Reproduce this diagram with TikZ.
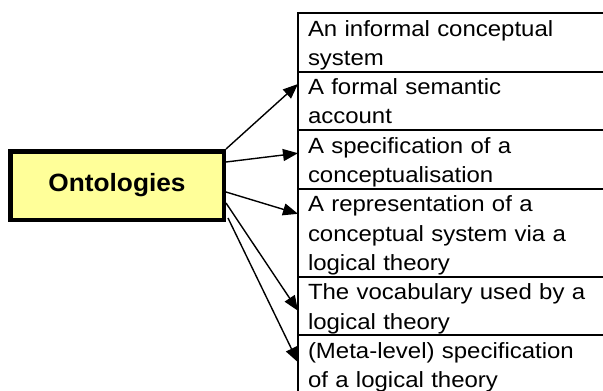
\documentclass[tikz,border=0pt]{standalone}
\usepackage{fontspec}
\setmainfont{Liberation Sans}
\newfontfamily\itemfont[FakeStretch=1.09]{Liberation Sans}
\newfontfamily\headfont[FakeStretch=1.05]{Liberation Sans}
\usetikzlibrary{arrows.meta,positioning}
\definecolor{ontofill}{HTML}{FFFF99}
\newcommand{\ls}{\rule[-6.3pt]{0pt}{29.3pt}}
\tikzset{
  item/.style={draw, line width=1.8pt, outer sep=0pt, inner xsep=10pt, inner ysep=0pt,
    anchor=north west, text width=300pt, align=left,
    font=\itemfont\fontsize{22}{29.3}\selectfont},
  head/.style={draw, line width=4.5pt, fill=ontofill, minimum width=213.5pt,
    minimum height=68.5pt, font=\headfont\bfseries\fontsize{25}{30}\selectfont},
  link/.style={->, line width=1.4pt}
}
\begin{document}
\begin{tikzpicture}[x=1pt, y=-1pt, >={Triangle[length=15pt,width=12pt]}]
\fill[white] (0,0) rectangle (603,391);
\clip (0,0) rectangle (603,391);
\node[head] (onto) at (117,185.5) {Ontologies};
\node[item] (c1) at (298,13) {\ls An informal conceptual\\\ls system};
\node[item, below=0pt of c1] (c2) {\ls A formal semantic\\\ls account};
\node[item, below=0pt of c2] (c3) {\ls A specification of a\\\ls conceptualisation};
\node[item, below=0pt of c3] (c4) {\ls A representation of a\\\ls conceptual system via a\\\ls logical theory};
\node[item, below=0pt of c4] (c5) {\ls The vocabulary used by a\\\ls logical theory};
\node[item, below=0pt of c5] (c6) {\ls (Meta-level) specification\\\ls of a logical theory};
\draw[link] (onto.north east) -- ([yshift=-12.4pt]c2.north west);
\draw[link] ([yshift=-13pt]onto.north east) -- ([yshift=-23pt]c3.north west);
\draw[link] ([yshift=30pt]onto.south east) -- ([yshift=-25pt]c4.north west);
\draw[link] ([yshift=19pt]onto.south east) -- ([yshift=-34pt]c5.north west);
\draw[link] ([xshift=2pt,yshift=4pt]onto.south east) -- ([yshift=-27pt]c6.north west);
\end{tikzpicture}
\end{document}
